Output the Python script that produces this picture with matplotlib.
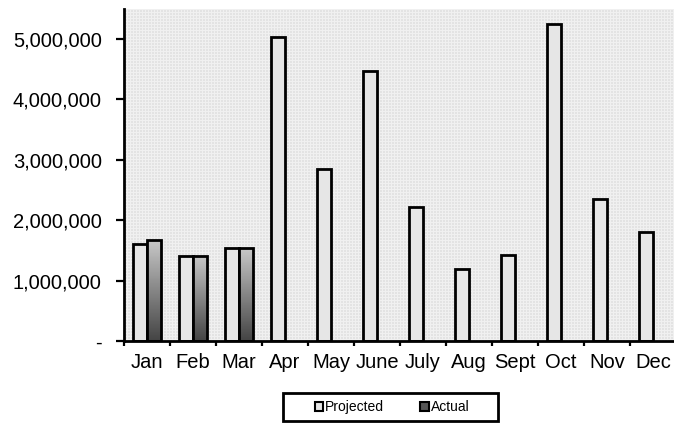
"""Projected vs actual monthly totals, Excel-style clustered column chart."""

import matplotlib

matplotlib.use("Agg")
import matplotlib.pyplot as plt
import numpy as np
from matplotlib.patches import Patch, Rectangle

plt.rcParams["font.family"] = ["Liberation Sans", "DejaVu Sans"]

months = ["Jan", "Feb", "Mar", "Apr", "May", "June", "July", "Aug", "Sept", "Oct", "Nov", "Dec"]
projected = [1600000, 1410000, 1530000, 5030000, 2850000, 4460000,
             2210000, 1190000, 1420000, 5250000, 2340000, 1800000]
actual = [1670000, 1410000, 1530000]  # only the first quarter is in
y_ticks = [0, 1000000, 2000000, 3000000, 4000000, 5000000]
y_labels = ["-", "1,000,000", "2,000,000", "3,000,000", "4,000,000", "5,000,000"]

W, H = 674, 430
fig = plt.figure(figsize=(W / 100, H / 100), dpi=100)
ax = fig.add_axes([124 / W, 1 - 341 / H, 552 / W, 332 / H])
ax.set_xlim(-0.5, len(months) - 0.5)
ax.set_ylim(0, 5.49e6)

# Excel's dotted grey plot-area fill, one texel per screen pixel.
tex = np.full((332, 552), 0.89)
tex[::3, :] = 0.94
tex[:, ::3] = 0.94
ax.imshow(tex, cmap="gray", vmin=0, vmax=1, extent=(-0.5, len(months) - 0.5, 0, 5.49e6),
          aspect="auto", interpolation="nearest", zorder=0)

width, off = 0.31, 0.155
x = np.arange(len(months))
ax.bar(x - off, projected, width, color="#e6e6e6", edgecolor="black", linewidth=2, zorder=2)

# Actual columns: vertical grey gradient clipped to each bar.
grad = np.linspace(0.78, 0.27, 64).reshape(-1, 1)
bars = ax.bar(x[:len(actual)] + off, actual, width, color="none", edgecolor="black",
              linewidth=2, zorder=3)
for b in bars:
    x0, w, h = b.get_x(), b.get_width(), b.get_height()
    im = ax.imshow(grad, cmap="gray", vmin=0, vmax=1, extent=(x0, x0 + w, 0, h),
                   aspect="auto", interpolation="bilinear", zorder=2.5)
    im.set_clip_path(b)

ax.set_yticks(y_ticks)
ax.set_yticklabels(y_labels)
ax.set_xticks(np.arange(len(months) + 1) - 0.5)
ax.set_xticklabels([])
ax.set_xticks(x, minor=True)
ax.set_xticklabels(months, minor=True)
ax.tick_params(axis="y", direction="out", length=6, width=1.6, pad=10, labelsize=14.5)
ax.tick_params(axis="x", which="major", direction="out", length=3.5, width=1.6)
ax.tick_params(axis="x", which="minor", length=0, pad=9, labelsize=14.5)
ax.set_aspect("auto")

for side in ("top", "right"):
    ax.spines[side].set_visible(False)
for side in ("left", "bottom"):
    ax.spines[side].set_linewidth(2)
    ax.spines[side].set_zorder(4)

# Legend box sits below the plot, drawn as a plain rectangle.
box = Rectangle((283 / W, 1 - 421 / H), 215 / W, 28 / H, transform=fig.transFigure,
                facecolor="white", edgecolor="black", linewidth=2)
fig.add_artist(box)
handles = [Patch(facecolor="#e6e6e6", edgecolor="black", linewidth=1.5),
           Patch(facecolor="#555555", edgecolor="black", linewidth=1.5)]
fig.legend(handles, ["Projected", "Actual"], loc="center", ncol=2, frameon=False,
           bbox_to_anchor=(392 / W, 1 - 407 / H), fontsize=10, handlelength=0.6,
           handleheight=0.6, handletextpad=0.15, columnspacing=2.6)

fig.savefig("out.png", dpi=100)
